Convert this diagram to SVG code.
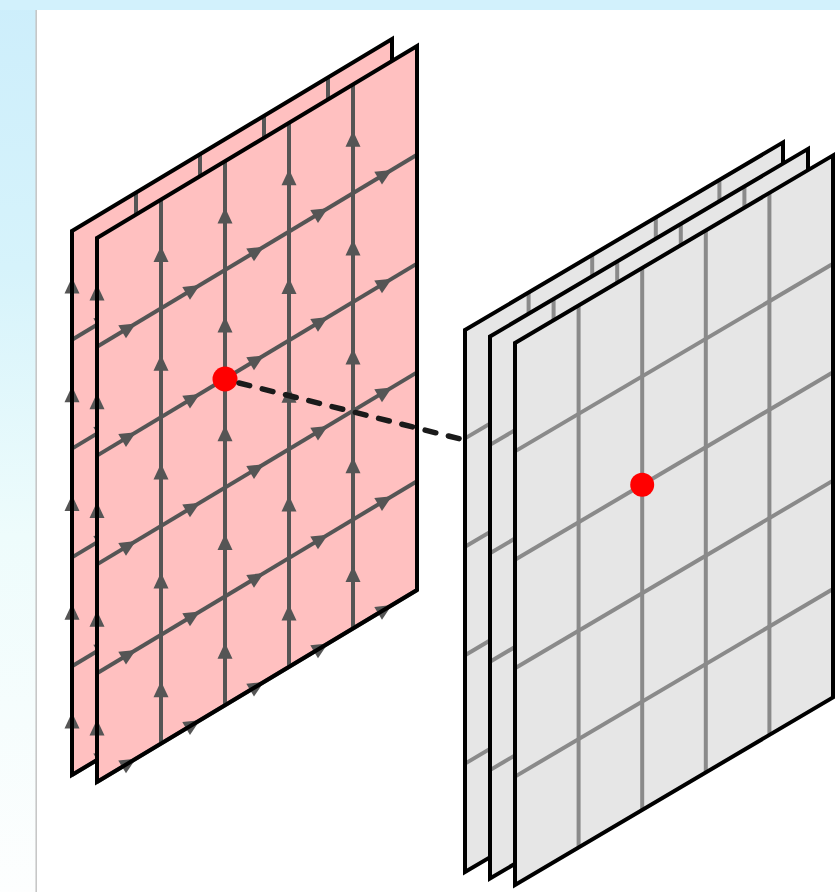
<svg xmlns="http://www.w3.org/2000/svg" xmlns:xlink="http://www.w3.org/1999/xlink" width="840" height="892" viewBox="0 0 840 892">
<style>
.pfill{fill:#ffc0c0}
.gfill{fill:#e6e6e6}
.pgrid{stroke:#555;stroke-width:4;fill:none}
.ggrid{stroke:#8a8a8a;stroke-width:4;fill:none}
.border{fill:none;stroke:#000;stroke-width:4;stroke-linejoin:miter}
.ah{fill:#555}
.dot{fill:#ff0000}
.link{stroke:#1a1a1a;stroke-width:5.5;stroke-dasharray:11 13;stroke-linecap:round;fill:none}
</style>
<defs>
<linearGradient id="leftbg" x1="0" y1="0" x2="0" y2="1">
<stop offset="0" stop-color="#cdeefb"/>
<stop offset="0.3" stop-color="#d6f3fb"/>
<stop offset="0.6" stop-color="#eefcfc"/>
<stop offset="1" stop-color="#fdfefe"/>
</linearGradient>
<path id="ah" class="ah" d="M8,0 L-8,-7.5 L-8,7.5 Z"/>
<g id="pinkPlane">
<polygon class="pfill" points="0,0 320,-192 320,352 0,544"/>
<g class="pgrid">
<line x1="0" y1="0" x2="0" y2="544"/>
<line x1="64" y1="-38.4" x2="64" y2="505.6"/>
<line x1="128" y1="-76.8" x2="128" y2="467.2"/>
<line x1="192" y1="-115.2" x2="192" y2="428.8"/>
<line x1="256" y1="-153.6" x2="256" y2="390.4"/>
<line x1="0" y1="108.8" x2="320" y2="-83.2"/>
<line x1="0" y1="217.6" x2="320" y2="25.6"/>
<line x1="0" y1="326.4" x2="320" y2="134.4"/>
<line x1="0" y1="435.2" x2="320" y2="243.2"/>
<line x1="0" y1="544" x2="320" y2="352"/>
</g>
<g>
<use xlink:href="#ah" transform="translate(0,54.4) rotate(-90)"/>
<use xlink:href="#ah" transform="translate(0,163.2) rotate(-90)"/>
<use xlink:href="#ah" transform="translate(0,272) rotate(-90)"/>
<use xlink:href="#ah" transform="translate(0,380.8) rotate(-90)"/>
<use xlink:href="#ah" transform="translate(0,489.6) rotate(-90)"/>
<use xlink:href="#ah" transform="translate(64,16) rotate(-90)"/>
<use xlink:href="#ah" transform="translate(64,124.8) rotate(-90)"/>
<use xlink:href="#ah" transform="translate(64,233.6) rotate(-90)"/>
<use xlink:href="#ah" transform="translate(64,342.4) rotate(-90)"/>
<use xlink:href="#ah" transform="translate(64,451.2) rotate(-90)"/>
<use xlink:href="#ah" transform="translate(128,-22.4) rotate(-90)"/>
<use xlink:href="#ah" transform="translate(128,86.4) rotate(-90)"/>
<use xlink:href="#ah" transform="translate(128,195.2) rotate(-90)"/>
<use xlink:href="#ah" transform="translate(128,304) rotate(-90)"/>
<use xlink:href="#ah" transform="translate(128,412.8) rotate(-90)"/>
<use xlink:href="#ah" transform="translate(192,-60.8) rotate(-90)"/>
<use xlink:href="#ah" transform="translate(192,48) rotate(-90)"/>
<use xlink:href="#ah" transform="translate(192,156.8) rotate(-90)"/>
<use xlink:href="#ah" transform="translate(192,265.6) rotate(-90)"/>
<use xlink:href="#ah" transform="translate(192,374.4) rotate(-90)"/>
<use xlink:href="#ah" transform="translate(256,-99.2) rotate(-90)"/>
<use xlink:href="#ah" transform="translate(256,9.6) rotate(-90)"/>
<use xlink:href="#ah" transform="translate(256,118.4) rotate(-90)"/>
<use xlink:href="#ah" transform="translate(256,227.2) rotate(-90)"/>
<use xlink:href="#ah" transform="translate(256,336) rotate(-90)"/>
<use xlink:href="#ah" transform="translate(32,89.6) rotate(-30.96)"/>
<use xlink:href="#ah" transform="translate(96,51.2) rotate(-30.96)"/>
<use xlink:href="#ah" transform="translate(160,12.8) rotate(-30.96)"/>
<use xlink:href="#ah" transform="translate(224,-25.6) rotate(-30.96)"/>
<use xlink:href="#ah" transform="translate(288,-64) rotate(-30.96)"/>
<use xlink:href="#ah" transform="translate(32,198.4) rotate(-30.96)"/>
<use xlink:href="#ah" transform="translate(96,160) rotate(-30.96)"/>
<use xlink:href="#ah" transform="translate(160,121.6) rotate(-30.96)"/>
<use xlink:href="#ah" transform="translate(224,83.2) rotate(-30.96)"/>
<use xlink:href="#ah" transform="translate(288,44.8) rotate(-30.96)"/>
<use xlink:href="#ah" transform="translate(32,307.2) rotate(-30.96)"/>
<use xlink:href="#ah" transform="translate(96,268.8) rotate(-30.96)"/>
<use xlink:href="#ah" transform="translate(160,230.4) rotate(-30.96)"/>
<use xlink:href="#ah" transform="translate(224,192) rotate(-30.96)"/>
<use xlink:href="#ah" transform="translate(288,153.6) rotate(-30.96)"/>
<use xlink:href="#ah" transform="translate(32,416) rotate(-30.96)"/>
<use xlink:href="#ah" transform="translate(96,377.6) rotate(-30.96)"/>
<use xlink:href="#ah" transform="translate(160,339.2) rotate(-30.96)"/>
<use xlink:href="#ah" transform="translate(224,300.8) rotate(-30.96)"/>
<use xlink:href="#ah" transform="translate(288,262.4) rotate(-30.96)"/>
<use xlink:href="#ah" transform="translate(32,524.8) rotate(-30.96)"/>
<use xlink:href="#ah" transform="translate(96,486.4) rotate(-30.96)"/>
<use xlink:href="#ah" transform="translate(160,448) rotate(-30.96)"/>
<use xlink:href="#ah" transform="translate(224,409.6) rotate(-30.96)"/>
<use xlink:href="#ah" transform="translate(288,371.2) rotate(-30.96)"/>
</g>
<polygon class="border" points="0,0 320,-192 320,352 0,544"/>
</g>
<g id="grayPlane">
<polygon class="gfill" points="0,0 318,-187.6 318,354.4 0,542"/>
<g class="ggrid">
<line x1="63.6" y1="-37.52" x2="63.6" y2="504.48"/>
<line x1="127.2" y1="-75.05" x2="127.2" y2="466.95"/>
<line x1="190.8" y1="-112.57" x2="190.8" y2="429.43"/>
<line x1="254.4" y1="-150.1" x2="254.4" y2="391.9"/>
<line x1="0" y1="108.4" x2="318" y2="-79.2"/>
<line x1="0" y1="216.8" x2="318" y2="29.2"/>
<line x1="0" y1="325.2" x2="318" y2="137.6"/>
<line x1="0" y1="433.6" x2="318" y2="246"/>
</g>
<polygon class="border" points="0,0 318,-187.6 318,354.4 0,542"/>
</g>
</defs>

<g id="background">
<rect x="0" y="0" width="840" height="892" fill="#ffffff"/>
<rect x="0" y="0" width="36" height="892" fill="url(#leftbg)"/>
<rect x="0" y="0" width="840" height="10" fill="#d2f1fc"/>
<line x1="36.2" y1="10" x2="36.2" y2="892" stroke="#c4c4c4" stroke-width="1.5"/>
</g>

<g id="pink-back">
<use xlink:href="#pinkPlane" transform="translate(72,231)"/>
</g>
<g id="pink-front">
<use xlink:href="#pinkPlane" transform="translate(97,238)"/>
<circle class="dot" cx="225" cy="379" r="12.5"/>
</g>

<g id="connectors">
<line class="link" x1="239" y1="383" x2="642" y2="485"/>
</g>

<g id="gray-back">
<use xlink:href="#grayPlane" transform="translate(465,330)"/>
</g>
<g id="gray-middle">
<use xlink:href="#grayPlane" transform="translate(490,336.5)"/>
</g>
<g id="gray-front">
<use xlink:href="#grayPlane" transform="translate(515,343)"/>
<circle class="dot" cx="642.2" cy="484.8" r="12"/>
</g>
</svg>
